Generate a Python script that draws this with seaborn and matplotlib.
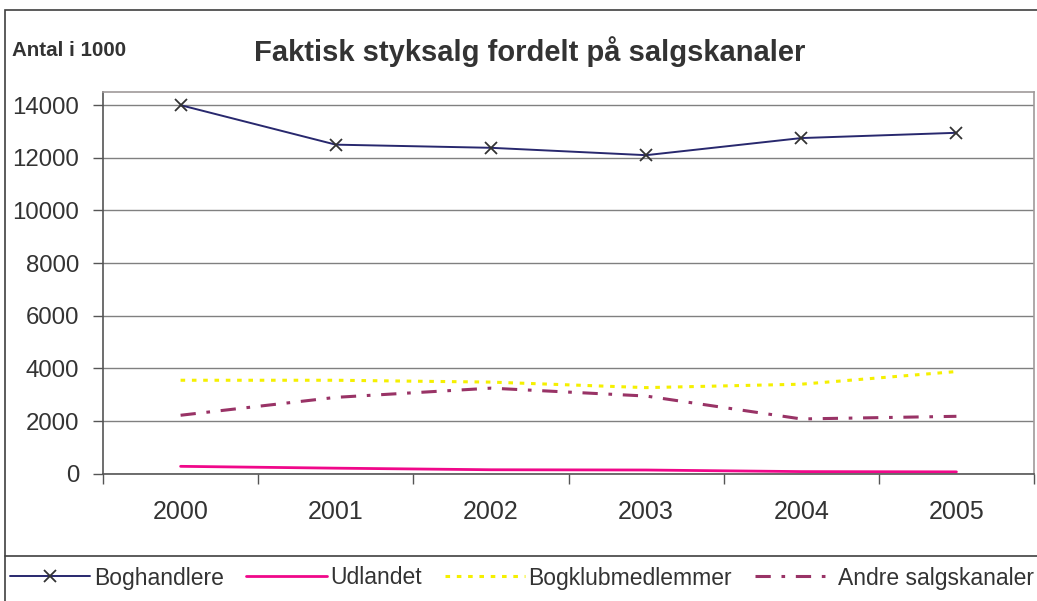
import matplotlib
matplotlib.use("Agg")
import matplotlib.pyplot as plt
import seaborn as sns
import pandas as pd
from matplotlib.patches import Rectangle
from matplotlib.lines import Line2D

years = ["2000", "2001", "2002", "2003", "2004", "2005"]
boghandlere = [14000, 12500, 12380, 12100, 12750, 12950]
udlandet = [280, 210, 150, 140, 80, 70]
bogklub = [3550, 3550, 3480, 3270, 3400, 3880]
andre = [2220, 2900, 3250, 2950, 2080, 2180]

series_names = ["Boghandlere", "Udlandet", "Bogklubmedlemmer", "Andre salgskanaler"]
y_ticks = [0, 2000, 4000, 6000, 8000, 10000, 12000, 14000]

sns.set_theme(style="white")
plt.rcParams['font.family'] = ['Liberation Sans', 'DejaVu Sans']

fig = plt.figure(figsize=(10.37, 6.01), dpi=100)
W, H = 1037, 601

def fx(px):
    return px / W

def fy(py):
    return 1 - py / H

# outer frame
fig.patches.append(Rectangle((fx(5), fy(601) - 0.01), fx(1040) - fx(5), fy(10) - fy(601) + 0.01,
                             transform=fig.transFigure, fill=False, edgecolor="#404040", lw=1.2))
fig.lines.append(Line2D([fx(5), 1.0], [fy(556), fy(556)], transform=fig.transFigure,
                        color="#404040", lw=1.2))

ax = fig.add_axes([fx(103), fy(473.7), fx(1034) - fx(103), fy(92) - fy(473.7)])

x = list(range(len(years)))
df = pd.DataFrame({"x": x, "Boghandlere": boghandlere, "Udlandet": udlandet,
                   "Bogklubmedlemmer": bogklub, "Andre salgskanaler": andre})

sns.lineplot(data=df, x="x", y="Boghandlere", ax=ax, color="#28286e", lw=1.4,
             marker="x", markersize=9, markeredgecolor="#333333", markeredgewidth=1.3)
sns.lineplot(data=df, x="x", y="Udlandet", ax=ax, color="#f0088a", lw=2.0)
sns.lineplot(data=df, x="x", y="Bogklubmedlemmer", ax=ax, color="#f5f000", lw=2.2,
             linestyle=(0, (1.5, 2.2)))
sns.lineplot(data=df, x="x", y="Andre salgskanaler", ax=ax, color="#993366", lw=2.2,
             linestyle=(0, (5, 3.5, 1.2, 3.5)))

ax.set_xlim(-0.5, 5.5)
ax.set_ylim(0, 14500)
ax.set_yticks(y_ticks)
ax.set_yticklabels([str(v) for v in y_ticks], fontsize=17.3, color="#333333")
ax.set_xticks([i - 0.5 for i in range(len(years) + 1)])
ax.set_xticklabels([])
for i, lab in enumerate(years):
    ax.text(i, -0.1, lab, transform=ax.get_xaxis_transform(), ha="center", va="center",
            fontsize=18, color="#333333")
ax.set_xlabel("")
ax.set_ylabel("")
ax.grid(axis="y", color="#808080", lw=1.0)
ax.set_axisbelow(True)
for s in ["top", "right"]:
    ax.spines[s].set_color("#a09a9a")
    ax.spines[s].set_linewidth(1.2)
for s in ["left", "bottom"]:
    ax.spines[s].set_color("#555555")
    ax.spines[s].set_linewidth(1.2)
ax.tick_params(axis="both", which="both", direction="out", length=7, width=1.0,
               color="#555555", left=True, bottom=True)
ax.tick_params(axis="y", pad=10)

fig.text(fx(12), fy(50), "Antal i 1000", fontsize=14.8, fontweight="bold", color="#333333",
         ha="left", va="center")
fig.text(fx(530), fy(52), "Faktisk styksalg fordelt på salgskanaler", fontsize=21,
         fontweight="bold", color="#333333", ha="center", va="center")

handles = [
    Line2D([], [], color="#28286e", lw=1.4, marker="x", markersize=9,
           markeredgecolor="#333333", markeredgewidth=1.3),
    Line2D([], [], color="#f0088a", lw=2.0),
    Line2D([], [], color="#f5f000", lw=2.2, linestyle=(0, (1.5, 2.2))),
    Line2D([], [], color="#993366", lw=2.2, linestyle=(0, (5, 3.5, 1.2, 3.5))),
]
fig.legend(handles, series_names, loc="center left", bbox_to_anchor=(fx(10), fy(578)),
           ncol=4, frameon=False, fontsize=16.5, handlelength=3.5, handletextpad=0.15,
           columnspacing=1.0, borderaxespad=0, borderpad=0, labelcolor="#333333")

fig.savefig("out.png", dpi=100)
